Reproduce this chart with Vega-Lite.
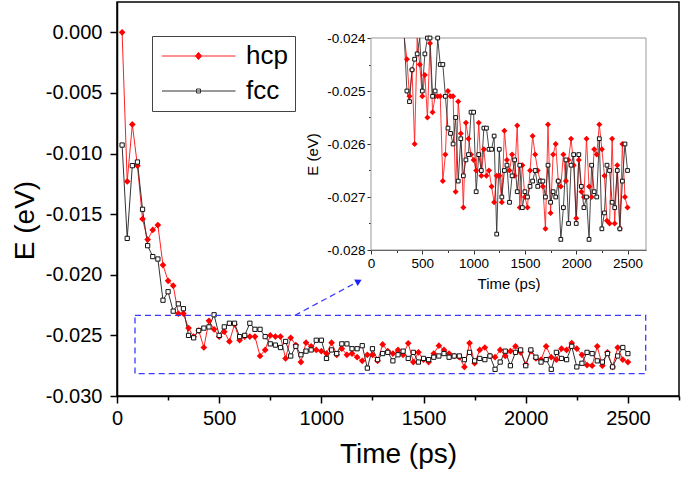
{
  "$schema": "https://vega.github.io/schema/vega-lite/v6.json",
  "width": 562,
  "height": 394,
  "autosize": "none",
  "padding": {"left": 117, "top": 2, "right": 6, "bottom": 82},
  "background": "white",
  "config": {
    "font": "Liberation Sans",
    "view": {"stroke": "#000", "strokeWidth": 1.5},
    "axis": {"grid": false, "labelColor": "#000", "titleColor": "#000", "titleFontWeight": "normal", "labelOverlap": false, "labelFlush": false}
  },
  "datasets": {
    "e": [
      {"t":25,"s":"hcp","E":0.0},{"t":50,"s":"hcp","E":-0.0123},{"t":75,"s":"hcp","E":-0.0076},{"t":100,"s":"hcp","E":-0.0110},{"t":125,"s":"hcp","E":-0.0154},
      {"t":150,"s":"hcp","E":-0.0171},{"t":175,"s":"hcp","E":-0.0163},{"t":200,"s":"hcp","E":-0.0159},{"t":225,"s":"hcp","E":-0.0192},{"t":250,"s":"hcp","E":-0.0205},
      {"t":275,"s":"hcp","E":-0.0209},{"t":300,"s":"hcp","E":-0.0232},{"t":325,"s":"hcp","E":-0.0232},{"t":350,"s":"hcp","E":-0.0244},{"t":375,"s":"hcp","E":-0.0251},
      {"t":400,"s":"hcp","E":-0.0246},{"t":425,"s":"hcp","E":-0.0260},{"t":450,"s":"hcp","E":-0.0238},{"t":475,"s":"hcp","E":-0.0245},{"t":500,"s":"hcp","E":-0.0251},
      {"t":525,"s":"hcp","E":-0.0247},{"t":550,"s":"hcp","E":-0.0255},{"t":575,"s":"hcp","E":-0.0241},{"t":600,"s":"hcp","E":-0.0254},{"t":625,"s":"hcp","E":-0.0251},
      {"t":650,"s":"hcp","E":-0.0251},{"t":675,"s":"hcp","E":-0.0251},{"t":700,"s":"hcp","E":-0.0267},{"t":725,"s":"hcp","E":-0.0262},{"t":750,"s":"hcp","E":-0.0250},
      {"t":775,"s":"hcp","E":-0.0251},{"t":800,"s":"hcp","E":-0.0251},{"t":825,"s":"hcp","E":-0.0269},{"t":850,"s":"hcp","E":-0.0252},{"t":875,"s":"hcp","E":-0.0258},
      {"t":900,"s":"hcp","E":-0.0272},{"t":925,"s":"hcp","E":-0.0256},{"t":950,"s":"hcp","E":-0.0259},{"t":975,"s":"hcp","E":-0.0262},{"t":1000,"s":"hcp","E":-0.0263},
      {"t":1025,"s":"hcp","E":-0.0265},{"t":1050,"s":"hcp","E":-0.0256},{"t":1075,"s":"hcp","E":-0.0266},{"t":1100,"s":"hcp","E":-0.0261},{"t":1125,"s":"hcp","E":-0.0266},
      {"t":1150,"s":"hcp","E":-0.0265},{"t":1175,"s":"hcp","E":-0.0268},{"t":1200,"s":"hcp","E":-0.0271},{"t":1225,"s":"hcp","E":-0.0266},{"t":1250,"s":"hcp","E":-0.0266},
      {"t":1275,"s":"hcp","E":-0.0271},{"t":1300,"s":"hcp","E":-0.02575},{"t":1325,"s":"hcp","E":-0.0263},{"t":1350,"s":"hcp","E":-0.0265},{"t":1375,"s":"hcp","E":-0.0262},
      {"t":1400,"s":"hcp","E":-0.0266},{"t":1425,"s":"hcp","E":-0.02565},{"t":1450,"s":"hcp","E":-0.0272},{"t":1475,"s":"hcp","E":-0.0264},{"t":1500,"s":"hcp","E":-0.0270},
      {"t":1525,"s":"hcp","E":-0.0272},{"t":1550,"s":"hcp","E":-0.0265},{"t":1575,"s":"hcp","E":-0.02585},{"t":1600,"s":"hcp","E":-0.0262},{"t":1625,"s":"hcp","E":-0.0265},
      {"t":1650,"s":"hcp","E":-0.0267},{"t":1675,"s":"hcp","E":-0.0268},{"t":1700,"s":"hcp","E":-0.0276},{"t":1725,"s":"hcp","E":-0.02563},{"t":1750,"s":"hcp","E":-0.0273},
      {"t":1775,"s":"hcp","E":-0.0262},{"t":1800,"s":"hcp","E":-0.0260},{"t":1825,"s":"hcp","E":-0.0267},{"t":1850,"s":"hcp","E":-0.0268},{"t":1875,"s":"hcp","E":-0.0262},
      {"t":1900,"s":"hcp","E":-0.0267},{"t":1925,"s":"hcp","E":-0.0263},{"t":1950,"s":"hcp","E":-0.0259},{"t":1975,"s":"hcp","E":-0.0264},{"t":2000,"s":"hcp","E":-0.0274},
      {"t":2025,"s":"hcp","E":-0.0263},{"t":2050,"s":"hcp","E":-0.0269},{"t":2075,"s":"hcp","E":-0.0270},{"t":2100,"s":"hcp","E":-0.0259},{"t":2125,"s":"hcp","E":-0.0268},
      {"t":2150,"s":"hcp","E":-0.0270},{"t":2175,"s":"hcp","E":-0.0261},{"t":2200,"s":"hcp","E":-0.0262},{"t":2225,"s":"hcp","E":-0.02563},{"t":2250,"s":"hcp","E":-0.0261},
      {"t":2275,"s":"hcp","E":-0.0266},{"t":2300,"s":"hcp","E":-0.02745},{"t":2325,"s":"hcp","E":-0.0275},{"t":2350,"s":"hcp","E":-0.0259},{"t":2375,"s":"hcp","E":-0.0275},
      {"t":2400,"s":"hcp","E":-0.0264},{"t":2425,"s":"hcp","E":-0.0276},{"t":2450,"s":"hcp","E":-0.0260},{"t":2475,"s":"hcp","E":-0.0270},{"t":2500,"s":"hcp","E":-0.0272},
      {"t":25,"s":"fcc","E":-0.0093},{"t":50,"s":"fcc","E":-0.0170},{"t":75,"s":"fcc","E":-0.0110},{"t":100,"s":"fcc","E":-0.0107},{"t":125,"s":"fcc","E":-0.0146},
      {"t":150,"s":"fcc","E":-0.0176},{"t":175,"s":"fcc","E":-0.0185},{"t":200,"s":"fcc","E":-0.0187},{"t":225,"s":"fcc","E":-0.0221},{"t":250,"s":"fcc","E":-0.0214},
      {"t":275,"s":"fcc","E":-0.0230},{"t":300,"s":"fcc","E":-0.0224},{"t":325,"s":"fcc","E":-0.0228},{"t":350,"s":"fcc","E":-0.0250},{"t":375,"s":"fcc","E":-0.0252},
      {"t":400,"s":"fcc","E":-0.0246},{"t":425,"s":"fcc","E":-0.0244},{"t":450,"s":"fcc","E":-0.0243},{"t":475,"s":"fcc","E":-0.0233},{"t":500,"s":"fcc","E":-0.0250},
      {"t":525,"s":"fcc","E":-0.0243},{"t":550,"s":"fcc","E":-0.0240},{"t":575,"s":"fcc","E":-0.0240},{"t":600,"s":"fcc","E":-0.0251},{"t":625,"s":"fcc","E":-0.0250},
      {"t":650,"s":"fcc","E":-0.0240},{"t":675,"s":"fcc","E":-0.0245},{"t":700,"s":"fcc","E":-0.0245},{"t":725,"s":"fcc","E":-0.0251},{"t":750,"s":"fcc","E":-0.0257},
      {"t":775,"s":"fcc","E":-0.0258},{"t":800,"s":"fcc","E":-0.0260},{"t":825,"s":"fcc","E":-0.0255},{"t":850,"s":"fcc","E":-0.0267},{"t":875,"s":"fcc","E":-0.0259},
      {"t":900,"s":"fcc","E":-0.0266},{"t":925,"s":"fcc","E":-0.0263},{"t":950,"s":"fcc","E":-0.0262},{"t":975,"s":"fcc","E":-0.0254},{"t":1000,"s":"fcc","E":-0.0254},
      {"t":1025,"s":"fcc","E":-0.0269},{"t":1050,"s":"fcc","E":-0.0262},{"t":1075,"s":"fcc","E":-0.0265},{"t":1100,"s":"fcc","E":-0.0257},{"t":1125,"s":"fcc","E":-0.0257},
      {"t":1150,"s":"fcc","E":-0.0261},{"t":1175,"s":"fcc","E":-0.0261},{"t":1200,"s":"fcc","E":-0.02585},{"t":1225,"s":"fcc","E":-0.0277},{"t":1250,"s":"fcc","E":-0.0261},
      {"t":1275,"s":"fcc","E":-0.0270},{"t":1300,"s":"fcc","E":-0.0265},{"t":1325,"s":"fcc","E":-0.0264},{"t":1350,"s":"fcc","E":-0.0271},{"t":1375,"s":"fcc","E":-0.0266},
      {"t":1400,"s":"fcc","E":-0.0263},{"t":1425,"s":"fcc","E":-0.0269},{"t":1450,"s":"fcc","E":-0.0264},{"t":1475,"s":"fcc","E":-0.0272},{"t":1500,"s":"fcc","E":-0.0269},
      {"t":1525,"s":"fcc","E":-0.0270},{"t":1550,"s":"fcc","E":-0.0268},{"t":1575,"s":"fcc","E":-0.0267},{"t":1600,"s":"fcc","E":-0.0265},{"t":1625,"s":"fcc","E":-0.0268},
      {"t":1650,"s":"fcc","E":-0.0267},{"t":1675,"s":"fcc","E":-0.0267},{"t":1700,"s":"fcc","E":-0.0270},{"t":1725,"s":"fcc","E":-0.0264},{"t":1750,"s":"fcc","E":-0.0271},
      {"t":1775,"s":"fcc","E":-0.0269},{"t":1800,"s":"fcc","E":-0.0270},{"t":1825,"s":"fcc","E":-0.0267},{"t":1850,"s":"fcc","E":-0.0278},{"t":1875,"s":"fcc","E":-0.0272},
      {"t":1900,"s":"fcc","E":-0.0263},{"t":1925,"s":"fcc","E":-0.0275},{"t":1950,"s":"fcc","E":-0.0264},{"t":1975,"s":"fcc","E":-0.0262},{"t":2000,"s":"fcc","E":-0.0275},
      {"t":2025,"s":"fcc","E":-0.0262},{"t":2050,"s":"fcc","E":-0.0268},{"t":2075,"s":"fcc","E":-0.0272},{"t":2100,"s":"fcc","E":-0.0270},{"t":2125,"s":"fcc","E":-0.0278},
      {"t":2150,"s":"fcc","E":-0.0264},{"t":2175,"s":"fcc","E":-0.0269},{"t":2200,"s":"fcc","E":-0.0270},{"t":2225,"s":"fcc","E":-0.0259},{"t":2250,"s":"fcc","E":-0.0276},
      {"t":2275,"s":"fcc","E":-0.0273},{"t":2300,"s":"fcc","E":-0.0264},{"t":2325,"s":"fcc","E":-0.0265},{"t":2350,"s":"fcc","E":-0.0271},{"t":2375,"s":"fcc","E":-0.0272},
      {"t":2400,"s":"fcc","E":-0.0265},{"t":2425,"s":"fcc","E":-0.0276},{"t":2450,"s":"fcc","E":-0.0267},{"t":2475,"s":"fcc","E":-0.0260},{"t":2500,"s":"fcc","E":-0.0265}
    ]
  },
  "data": {"name": "e"},
  "layer": [
    {
      "layer": [
        {
          "mark": {"type": "line", "strokeWidth": 1},
          "encoding": {
            "x": {"field": "t", "type": "quantitative",
              "scale": {"domain": [0, 2750], "nice": false, "zero": false},
              "axis": {"orient": "bottom", "title": "Time (ps)", "format": "d",
                "values": [0,250,500,750,1000,1250,1500,1750,2000,2250,2500,2750],
                "labelExpr": "datum.value % 500 == 0 ? datum.label : ''",
                "tickSize": {"condition": {"test": "datum.value % 500 == 0", "value": 7}, "value": 4},
                "labelFontSize": 20, "labelPadding": 5, "titleFontSize": 28, "titlePadding": 12,
                "domainColor": "#000", "domainWidth": 1.5, "tickColor": "#000", "tickWidth": 1.5}},
            "y": {"field": "E", "type": "quantitative",
              "scale": {"domain": [-0.03, 0.0025], "nice": false, "zero": false},
              "axis": {"orient": "left", "title": "E (eV)", "format": ".3f",
                "values": [-0.03,-0.0275,-0.025,-0.0225,-0.02,-0.0175,-0.015,-0.0125,-0.01,-0.0075,-0.005,-0.0025,0,0.0025],
                "labelExpr": "abs(round(datum.value*10000)) % 50 == 0 ? replace(datum.label, '\u2212', '-') : ''",
                "tickSize": {"condition": {"test": "abs(round(datum.value*10000)) % 50 == 0", "value": 7}, "value": 4},
                "labelFontSize": 20, "labelPadding": 8, "titleFontSize": 28, "titlePadding": 6, "titleY": 218,
                "domainColor": "#000", "domainWidth": 1.5, "tickColor": "#000", "tickWidth": 1.5}},
            "color": {"field": "s", "type": "nominal",
              "scale": {"domain": ["hcp", "fcc"], "range": ["#ff2020", "#333333"]},
              "legend": {"orient": "none", "legendX": 35, "legendY": 34, "title": null,
                "strokeColor": "#444", "fillColor": "white", "padding": 7,
                "symbolSize": 400, "symbolStrokeWidth": 1, "labelFontSize": 26, "labelColor": "#000",
                "labelOffset": 61, "rowPadding": 9,
                "encode": {"symbols": {"update": {
                  "shape": {"signal": "datum.value === 'hcp' ? 'M-1,0H6.35M2.65,-0.36L2.97,0L2.65,0.36L2.33,0Z' : 'M-1,0H6.35M2.45,-0.2H2.85V0.2H2.45Z'"},
                  "fill": {"signal": "datum.value === 'hcp' ? '#ff0000' : '#ffffff'"},
                  "stroke": {"signal": "datum.value === 'hcp' ? '#ff2020' : '#333333'"},
                  "strokeWidth": {"value": 1}}}}}}
          }
        },
        {
          "transform": [{"filter": "datum.s === 'hcp'"}],
          "mark": {"type": "point", "shape": "diamond", "filled": true, "color": "#ff0000", "size": 45, "opacity": 1},
          "encoding": {"x": {"field": "t", "type": "quantitative"}, "y": {"field": "E", "type": "quantitative"}}
        },
        {
          "transform": [{"filter": "datum.s === 'fcc'"}],
          "mark": {"type": "point", "shape": "square", "filled": false, "fill": "white", "stroke": "#111", "strokeWidth": 1, "size": 18, "opacity": 1},
          "encoding": {"x": {"field": "t", "type": "quantitative"}, "y": {"field": "E", "type": "quantitative"}}
        },
        {
          "data": {"values": [{}]},
          "mark": {"type": "rect", "fill": null, "fillOpacity": 0, "stroke": "#3a3aff", "strokeWidth": 1.3, "strokeDash": [6, 4]},
          "encoding": {"x": {"datum": 88}, "x2": {"datum": 2587}, "y": {"datum": -0.02335}, "y2": {"datum": -0.02816}}
        },
        {
          "data": {"values": [{}]},
          "mark": {"type": "rule", "stroke": "#3a3aff", "strokeWidth": 1.3, "strokeDash": [6, 4]},
          "encoding": {"x": {"datum": 870}, "x2": {"datum": 1180}, "y": {"datum": -0.02336}, "y2": {"datum": -0.02055}}
        },
        {
          "data": {"values": [{}]},
          "mark": {"type": "point", "shape": "triangle-up", "filled": true, "color": "#2020ff", "size": 55, "angle": 62, "opacity": 1},
          "encoding": {"x": {"datum": 1183}, "y": {"datum": -0.02054}}
        }
      ]
    },
    {
      "layer": [
        {
          "data": {"values": [{}]},
          "mark": {"type": "rect", "fill": "white", "stroke": "#999", "strokeWidth": 1},
          "encoding": {
            "x": {"datum": 0, "type": "quantitative",
              "scale": {"domain": [0, 2680], "range": [254, 529], "nice": false, "zero": false},
              "axis": {"orient": "bottom", "offset": -146, "title": "Time (ps)", "format": "d",
                "values": [0,250,500,750,1000,1250,1500,1750,2000,2250,2500],
                "labelExpr": "datum.value % 500 == 0 ? datum.label : ''",
                "tickSize": {"condition": {"test": "datum.value % 500 == 0", "value": 4}, "value": 2.5},
                "labelFontSize": 13.5, "labelPadding": 2, "titleFontSize": 15, "titlePadding": 7,
                "domainColor": "#333", "domainWidth": 1, "tickColor": "#333", "tickWidth": 1}},
            "x2": {"datum": 2680},
            "y": {"datum": -0.024, "type": "quantitative",
              "scale": {"domain": [-0.028, -0.024], "range": [248, 36], "nice": false, "zero": false, "clamp": true},
              "axis": {"orient": "left", "offset": -254, "title": "E (eV)", "format": ".3f",
                "values": [-0.028,-0.0275,-0.027,-0.0265,-0.026,-0.0255,-0.025,-0.0245,-0.024],
                "labelExpr": "abs(round(datum.value*10000)) % 10 == 0 ? replace(datum.label, '\u2212', '-') : ''",
                "tickSize": {"condition": {"test": "abs(round(datum.value*10000)) % 10 == 0", "value": 4}, "value": 2.5},
                "labelFontSize": 13.5, "labelPadding": 2, "titleFontSize": 15, "titlePadding": 6, "titleY": 152,
                "domainColor": "#333", "domainWidth": 1, "tickColor": "#333", "tickWidth": 1}},
            "y2": {"datum": -0.028}
          }
        },
        {
          "transform": [{"filter": "datum.s === 'hcp' && datum.t >= 325"}],
          "mark": {"type": "line", "color": "#ff2020", "strokeWidth": 0.9},
          "encoding": {"x": {"field": "t", "type": "quantitative"}, "y": {"field": "E", "type": "quantitative"}}
        },
        {
          "transform": [{"filter": "datum.s === 'fcc' && datum.t >= 325"}],
          "mark": {"type": "line", "color": "#333333", "strokeWidth": 0.9},
          "encoding": {"x": {"field": "t", "type": "quantitative"}, "y": {"field": "E", "type": "quantitative"}}
        },
        {
          "transform": [{"filter": "datum.s === 'hcp' && datum.t >= 350 && datum.E <= -0.024"}],
          "mark": {"type": "point", "shape": "diamond", "filled": true, "color": "#ff0000", "size": 36, "opacity": 1},
          "encoding": {"x": {"field": "t", "type": "quantitative"}, "y": {"field": "E", "type": "quantitative"}}
        },
        {
          "transform": [{"filter": "datum.s === 'fcc' && datum.t >= 350 && datum.E <= -0.024"}],
          "mark": {"type": "point", "shape": "square", "filled": false, "fill": "white", "stroke": "#111", "strokeWidth": 1, "size": 14, "opacity": 1},
          "encoding": {"x": {"field": "t", "type": "quantitative"}, "y": {"field": "E", "type": "quantitative"}}
        }
      ]
    }
  ],
  "resolve": {"scale": {"x": "independent", "y": "independent"}, "axis": {"x": "independent", "y": "independent"}}
}
